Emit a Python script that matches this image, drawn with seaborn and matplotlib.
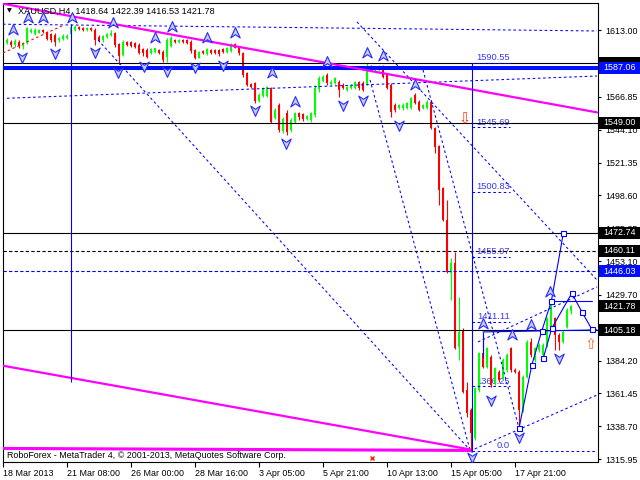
import numpy as np
import pandas as pd
import seaborn as sns
import matplotlib
matplotlib.use('Agg')
import matplotlib.pyplot as plt
import matplotlib.transforms as mtransforms
from matplotlib.patches import Rectangle
from matplotlib.path import Path

# ---- XAUUSD H4 candles (bar 0 = 18 Mar 2013 16:00) ----
bar_open = [1610.9, 1604.0, 1605.1, 1602.8, 1605.1, 1602.4, 1604.0, 1611.6, 1610.2, 1611.4,
            1613.2, 1612.1, 1610.2, 1609.8, 1606.3, 1607.0, 1607.4, 1610.2, 1613.2, 1615.5,
            1614.8, 1613.2, 1614.8, 1613.2, 1608.6, 1606.3, 1608.1, 1609.8, 1611.4, 1603.3,
            1595.9, 1605.1, 1605.1, 1604.0, 1602.8, 1599.8, 1599.4, 1597.1, 1598.2, 1599.4,
            1598.2, 1594.7, 1602.4, 1606.3, 1604.7, 1606.3, 1606.3, 1605.1, 1599.4, 1594.0,
            1598.7, 1596.4, 1599.4, 1599.4, 1599.4, 1600.1, 1598.2, 1598.7, 1603.3, 1601.7,
            1597.1, 1583.2, 1575.6, 1576.3, 1564.0, 1567.7, 1567.7, 1573.3, 1552.0, 1561.3,
            1543.5, 1555.5, 1543.9, 1549.7, 1555.5, 1554.8, 1551.6, 1550.9, 1554.3, 1572.1,
            1578.1, 1582.0, 1575.6, 1576.3, 1577.4, 1575.1, 1571.6, 1572.8, 1572.8, 1577.0,
            1576.7, 1575.6, 1587.8, 1585.5, 1585.5, 1587.8, 1582.0, 1575.1, 1561.3, 1559.0,
            1559.0, 1559.0, 1559.0, 1568.2, 1563.6, 1559.0, 1559.0, 1563.6, 1545.1, 1532.9,
            1503.5, 1481.6, 1445.1, 1451.6, 1393.8, 1405.4, 1363.8, 1349.9, 1330.3, 1363.8,
            1389.2, 1380.0, 1386.9, 1368.4, 1376.5, 1371.9, 1377.7, 1392.7, 1377.7, 1376.5,
            1349.9, 1373.0, 1397.3, 1384.6, 1391.5, 1388.1, 1395.0, 1407.7, 1413.5, 1401.9,
            1397.3, 1407.7, 1418.64]
bar_close = [1601.7, 1606.3, 1602.8, 1605.6, 1602.4, 1604.4, 1614.8, 1613.2, 1613.2, 1613.2,
             1611.6, 1607.0, 1606.3, 1605.1, 1607.9, 1609.3, 1609.3, 1615.5, 1615.5, 1613.9,
             1613.2, 1614.4, 1613.2, 1606.3, 1606.3, 1609.1, 1610.4, 1611.4, 1602.8, 1595.4,
             1605.1, 1602.8, 1602.4, 1601.7, 1597.1, 1597.1, 1594.7, 1599.8, 1600.5, 1597.1,
             1592.4, 1606.3, 1607.9, 1604.7, 1606.3, 1604.7, 1604.0, 1598.7, 1593.6, 1597.7,
             1597.1, 1600.1, 1597.1, 1597.1, 1596.4, 1597.7, 1601.0, 1603.3, 1601.0, 1597.1,
             1582.0, 1575.1, 1573.5, 1564.0, 1568.2, 1572.8, 1573.5, 1549.7, 1557.8, 1543.9,
             1551.6, 1542.8, 1550.9, 1555.5, 1553.2, 1551.3, 1553.4, 1555.5, 1572.8, 1579.7,
             1580.9, 1576.3, 1577.4, 1579.7, 1571.6, 1572.8, 1574.0, 1575.1, 1577.0, 1572.8,
             1571.6, 1586.7, 1585.5, 1586.7, 1587.8, 1580.9, 1572.8, 1556.6, 1557.8, 1561.3,
             1561.3, 1562.4, 1565.9, 1562.4, 1557.8, 1561.3, 1563.6, 1545.1, 1532.4, 1502.4,
             1481.6, 1445.8, 1451.6, 1392.7, 1404.2, 1362.7, 1347.6, 1333.8, 1364.9, 1389.2,
             1380.0, 1392.7, 1367.3, 1378.8, 1370.7, 1384.6, 1388.1, 1377.7, 1376.5, 1349.9,
             1373.0, 1397.3, 1388.1, 1392.7, 1395.0, 1395.0, 1413.5, 1425.0, 1401.9, 1397.3,
             1404.2, 1419.2, 1421.78]
bar_high = [1612.1, 1607.4, 1606.3, 1607.0, 1606.3, 1605.1, 1615.5, 1614.4, 1614.4, 1614.1,
            1614.1, 1612.8, 1610.9, 1610.9, 1608.6, 1610.2, 1610.2, 1617.4, 1616.7, 1616.2,
            1615.5, 1615.1, 1615.5, 1614.4, 1609.8, 1609.8, 1611.4, 1613.2, 1612.1, 1604.0,
            1606.3, 1605.8, 1605.8, 1605.1, 1604.0, 1600.5, 1600.5, 1600.5, 1601.0, 1600.1,
            1599.4, 1607.4, 1609.1, 1607.0, 1607.0, 1607.0, 1607.0, 1606.3, 1600.1, 1598.7,
            1599.4, 1601.0, 1600.1, 1600.1, 1600.1, 1601.0, 1601.7, 1604.4, 1604.4, 1602.4,
            1598.2, 1584.4, 1576.3, 1577.4, 1569.3, 1573.5, 1574.4, 1574.0, 1559.0, 1562.4,
            1553.2, 1557.8, 1552.0, 1556.6, 1556.6, 1555.5, 1554.3, 1556.6, 1575.1, 1581.3,
            1582.0, 1583.2, 1578.6, 1580.4, 1578.6, 1576.3, 1574.7, 1575.8, 1577.7, 1577.7,
            1577.7, 1590.1, 1589.0, 1587.8, 1589.0, 1589.0, 1582.7, 1576.3, 1562.4, 1562.0,
            1562.4, 1563.6, 1567.0, 1569.3, 1564.7, 1562.0, 1564.7, 1564.7, 1545.8, 1533.5,
            1504.7, 1495.4, 1455.0, 1459.7, 1428.5, 1406.5, 1369.6, 1351.1, 1366.1, 1390.4,
            1402.6, 1393.8, 1388.1, 1380.0, 1377.7, 1385.8, 1389.2, 1393.8, 1378.8, 1377.7,
            1374.2, 1398.5, 1399.6, 1393.8, 1396.1, 1396.1, 1414.6, 1427.3, 1414.6, 1403.1,
            1405.4, 1420.4, 1422.39]
bar_low = [1600.5, 1603.3, 1601.7, 1601.7, 1600.5, 1599.8, 1603.5, 1610.9, 1609.5, 1610.9,
           1610.9, 1606.3, 1605.1, 1602.4, 1605.1, 1606.3, 1606.8, 1609.1, 1612.8, 1613.2,
           1612.5, 1612.8, 1612.5, 1602.8, 1605.1, 1605.1, 1607.4, 1609.1, 1601.7, 1589.4,
           1595.2, 1602.1, 1601.7, 1600.5, 1596.4, 1595.2, 1593.6, 1596.4, 1597.5, 1596.4,
           1591.3, 1591.3, 1601.7, 1604.0, 1604.0, 1604.0, 1603.3, 1597.5, 1592.9, 1593.6,
           1596.4, 1595.9, 1596.4, 1596.6, 1595.4, 1597.1, 1597.5, 1598.2, 1600.5, 1595.9,
           1580.9, 1574.4, 1572.8, 1562.9, 1563.3, 1567.0, 1567.0, 1548.6, 1551.3, 1542.8,
           1541.6, 1540.5, 1542.8, 1549.0, 1550.9, 1550.4, 1550.9, 1549.7, 1553.2, 1570.5,
           1577.4, 1575.1, 1574.9, 1575.6, 1567.0, 1572.1, 1571.0, 1572.1, 1572.1, 1571.6,
           1571.0, 1574.9, 1584.8, 1584.8, 1585.0, 1580.2, 1572.1, 1553.2, 1556.6, 1558.3,
           1557.8, 1558.3, 1558.3, 1561.7, 1557.1, 1558.3, 1558.3, 1544.4, 1528.2, 1492.0,
           1481.1, 1445.1, 1426.2, 1392.0, 1384.6, 1362.0, 1345.3, 1321.1, 1329.2, 1362.7,
           1378.8, 1378.8, 1366.1, 1367.3, 1369.6, 1370.7, 1376.5, 1376.5, 1375.8, 1336.1,
           1348.8, 1371.9, 1386.9, 1383.4, 1390.4, 1386.9, 1393.8, 1406.5, 1391.5, 1391.5,
           1396.1, 1406.5, 1416.53]

x_tick_bars = [0, 16, 32, 48, 64, 80, 96, 112, 128]
x_tick_labels = ['18 Mar 2013', '21 Mar 08:00', '26 Mar 00:00', '28 Mar 16:00', '3 Apr 05:00',
                 '5 Apr 21:00', '10 Apr 13:00', '15 Apr 05:00', '17 Apr 21:00']
# scale values; the two hidden behind price boxes carry no label
y_tick_values = [1315.95, 1338.70, 1361.45, 1384.20, 1406.95, 1429.70, 1453.10, 1475.85,
                 1498.60, 1521.35, 1544.10, 1566.85, 1589.60, 1613.00]
y_tick_labels = ['1315.95', '1338.70', '1361.45', '1384.20', '', '1429.70', '1453.10', '1475.85',
                 '1498.60', '1521.35', '1544.10', '1566.85', '', '1613.00']

# price boxes on the right scale
box_prices = [1590.10, 1587.06, 1549.00, 1472.74, 1460.11, 1446.03, 1421.78, 1405.18]
box_labels = ['', '1587.06', '1549.00', '1472.74', '1460.11', '1446.03', '1421.78', '1405.18']
box_colors = ['black', '#0010ff', 'black', 'black', 'black', '#0010ff', 'black', 'black']

# horizontal levels
black_levels = [1590.10, 1549.00, 1472.74, 1405.18]
black_dash_levels = [1460.11]
blue_dash_levels = [1446.03]
thick_blue_level = 1587.06

# fibonacci levels
fib_levels = [1590.55, 1545.69, 1500.83, 1455.97, 1411.11, 1366.25, 1321.39]
fib_texts = ['1590.55', '1545.69', '1500.83', '1455.97', '1411.11', '1366.25', '0.0']

# dashed blue trend lines (bar, price) pairs
trend_bars = [[0, 148.5], [1, 148.5], [23.75, 116.75], [88.5, 148.5], [91.75, 116.75],
              [105, 129], [118.75, 148.5], [116.75, 148.5]]
trend_prices = [[1617.2, 1612.5], [1565.9, 1581.3], [1606.3, 1322.2], [1618.8, 1440.0],
                [1578.6, 1322.2], [1585.5, 1337.3], [1397.1, 1435.2], [1321.5, 1360.3]]
red_dash_bars = [0, 14.75]
red_dash_prices = [1597.3, 1616.0]

# magenta lines
mag_upper_bars = [0, 148.5]
mag_upper_prices = [1631.4, 1556.1]
mag_lower_bars = [0, 116.75]
mag_lower_prices = [1380.6, 1322.6]
mag_base_bars = [0, 116.75]
mag_base_prices = [1323.3, 1321.9]

# solid blue forecast paths
path_a_bars = [129, 132.2, 134.7, 137.1, 140.1]
path_a_prices = [1337.3, 1381.1, 1404.7, 1425.5, 1472.7]
path_b_bars = [135.1, 137.2, 142.2, 144.7, 147.2]
path_b_prices = [1386.2, 1406.6, 1430.8, 1418.0, 1405.9]
level_b_bars = [120.0, 148.5]
level_b_prices = [1404.0, 1405.4]
level_c_bars = [136.75, 147.2]
level_c_prices = [1425.5, 1425.5]

# fractals
up_frac_bars = [2.6, 6.3, 10.1, 17.2, 27.6, 38.0, 42.2, 50.9, 58.0, 67.2, 73.0, 80.9, 91.1,
                95.1, 103.0, 120.1, 127.3, 132.1, 136.8]
up_frac_prices = [1613.2, 1621.3, 1621.3, 1621.3, 1618.3, 1607.5, 1615.5, 1607.5, 1610.9,
                  1583.2, 1563.5, 1591.3, 1597.1, 1595.5, 1575.1, 1409.5, 1401.9, 1408.8, 1431.9]
dn_frac_bars = [4.7, 13.0, 23.0, 28.8, 35.3, 40.9, 48.0, 55.1, 63.0, 70.8, 85.1, 90.1, 99.0,
                117.2, 122.0, 129.0, 139.0]
dn_frac_prices = [1594.7, 1597.1, 1598.2, 1584.3, 1588.3, 1584.8, 1587.8, 1589.0, 1557.8,
                  1534.7, 1561.3, 1564.7, 1547.4, 1317.6, 1356.9, 1331.5, 1385.8]

sns.set_theme(style='white')
plt.rcParams['font.family'] = ['Liberation Sans', 'DejaVu Sans']
FS = 6.4

fig = plt.figure(figsize=(6.4, 4.8), dpi=100)
fig.patch.set_facecolor('white')
ax = fig.add_axes([2.7 / 640, 18.3 / 480, 594.8 / 640, 459 / 480])
ax.set_facecolor('white')

# candles
df = pd.DataFrame({'open': bar_open, 'high': bar_high, 'low': bar_low, 'close': bar_close})
df['bar'] = np.arange(len(df))
colors = np.where(df['close'] >= df['open'], '#00ff00', '#ff0000')
ax.vlines(df['bar'], df['low'], df['high'], colors=colors, lw=0.8, zorder=2)
body = (df['close'] - df['open']).abs().clip(lower=0.7)
ax.bar(df['bar'], body, bottom=df[['open', 'close']].min(axis=1), width=0.72,
       color=colors, lw=0, zorder=2)

# horizontal levels
ax.axhline(thick_blue_level, color='#0010ff', lw=2.9, zorder=3)
for lv in black_levels:
    ax.axhline(lv, color='black', lw=0.8, zorder=3)
for lv in black_dash_levels:
    ax.axhline(lv, color='black', lw=0.8, ls=(0, (3, 2)), zorder=3)
for lv in blue_dash_levels:
    ax.axhline(lv, color='#0000ff', lw=0.8, ls=(0, (3, 2)), zorder=3)

# trend lines
for xs, ys in zip(trend_bars, trend_prices):
    ax.plot(xs, ys, color='#0000ff', lw=0.75, ls=(0, (2.5, 2.5)), zorder=3)
ax.plot(red_dash_bars, red_dash_prices, color='#ff0000', lw=0.75, ls=(0, (2.5, 2.5)), zorder=3)

ax.plot(mag_upper_bars, mag_upper_prices, color='#ff00ff', lw=1.6, zorder=3)
ax.plot(mag_lower_bars, mag_lower_prices, color='#ff00ff', lw=1.6, zorder=3)
ax.plot(mag_base_bars, mag_base_prices, color='#ff00ff', lw=2.2, zorder=3)

# vertical lines
ax.vlines(17, 1369.4, 1617.0, color='#0000ff', lw=0.8, zorder=3)
ax.vlines(117.2, 1321.1, 1590.55, color='#0000ff', lw=0.8, zorder=3)

# fibonacci levels
ax.hlines(fib_levels[:-1], 117.2, 126.75, color='#0000ff', lw=0.75, ls=(0, (2.5, 2.5)), zorder=3)
ax.hlines(fib_levels[-1], 117.2, 148.6, color='#0000ff', lw=0.75, ls=(0, (2.5, 2.5)), zorder=3)
for lv, txt in zip(fib_levels, fib_texts):
    ax.text(126.75, lv + 0.6, txt, ha='right', va='bottom', color='#3838f0',
            fontsize=FS + 0.3, zorder=1.5)

# forecast paths
sns.lineplot(x=path_a_bars, y=path_a_prices, ax=ax, sort=False, color='#0000ff', lw=0.8,
             marker='s', markersize=3.6, markerfacecolor='white', markeredgecolor='#0000ff',
             markeredgewidth=0.8, zorder=4)
sns.lineplot(x=path_b_bars, y=path_b_prices, ax=ax, sort=False, color='#0000ff', lw=0.8,
             marker='s', markersize=3.6, markerfacecolor='white', markeredgecolor='#0000ff',
             markeredgewidth=0.8, zorder=4)
ax.plot(level_b_bars, level_b_prices, color='#0000ff', lw=0.8, zorder=3)
ax.vlines(level_b_bars[0], 1386.6, level_b_prices[0], color='#0000ff', lw=0.8, zorder=3)
ax.plot(level_c_bars, level_c_prices, color='#0000ff', lw=0.8, zorder=3)

# fractal arrows
up_arrow = Path([(0, 1), (0.8, -0.75), (0, -0.2), (-0.8, -0.75), (0, 1)],
                [Path.MOVETO, Path.LINETO, Path.LINETO, Path.LINETO, Path.CLOSEPOLY])
dn_arrow = Path([(0, -1), (0.8, 0.75), (0, 0.2), (-0.8, 0.75), (0, -1)],
                [Path.MOVETO, Path.LINETO, Path.LINETO, Path.LINETO, Path.CLOSEPOLY])
ax.plot(up_frac_bars, up_frac_prices, ls='none', marker=up_arrow, ms=8.5,
        mfc='#c4ccff', mec='#2a2aff', mew=0.8, zorder=5)
ax.plot(dn_frac_bars, dn_frac_prices, ls='none', marker=dn_arrow, ms=8.5,
        mfc='#c4ccff', mec='#2a2aff', mew=0.8, zorder=5)

# order arrows
ax.text(115.5, 1552.0, '\u21e9', family='DejaVu Sans', fontsize=10.5, color='#ff3a10',
        ha='center', va='center', zorder=5)
ax.text(147.0, 1395.0, '\u21e7', family='DejaVu Sans', fontsize=10.5, color='#ff6a30',
        ha='center', va='center', zorder=5)
ax.plot([92.2], [1316.5], ls='none', marker='x', ms=3, mec='#ff2000', mew=1.0, zorder=5)

# axes styling
ax.set_xlim(-0.075, 148.625)
ax.set_ylim(1314.1, 1632.1)
for sp in ax.spines.values():
    sp.set_color('black')
    sp.set_linewidth(0.8)
    sp.set_visible(True)

ax.set_xticks(x_tick_bars)
ax.set_xticklabels(x_tick_labels, fontsize=FS)
for lab in ax.get_xticklabels():
    lab.set_horizontalalignment('left')
ax.tick_params(axis='x', bottom=True, direction='out', length=3.5, width=0.8,
               pad=1.5, colors='black')

ax.yaxis.tick_right()
ax.set_yticks(y_tick_values)
ax.set_yticklabels(y_tick_labels, fontsize=FS)
ax.tick_params(axis='y', right=True, left=False, labelright=True, labelleft=False,
               direction='out', length=2.5, width=0.8, pad=3, colors='black')
ax.set_xlabel('')
ax.set_ylabel('')
ax.grid(False)

# price boxes
box_tr = mtransforms.blended_transform_factory(fig.transFigure, ax.transData)
for p, lab, c in zip(box_prices, box_labels, box_colors):
    ax.add_patch(Rectangle((598.5 / 640, p - 4.1), 41.5 / 640, 8.2, transform=box_tr,
                           facecolor=c, edgecolor='none', clip_on=False, zorder=10))
    if lab:
        ax.text(603.5 / 640, p, lab, transform=box_tr, color='white', fontsize=FS,
                va='center', ha='left', zorder=11, clip_on=False)

# header and footer text
fig.text(6.5 / 640, 1 - 11 / 480, '\u25bc', fontsize=4.5, va='center', ha='left',
         family='DejaVu Sans', color='black')
fig.text(18 / 640, 1 - 11 / 480, 'XAUUSD,H4  1418.64 1422.39 1416.53 1421.78',
         fontsize=6.6, va='center', ha='left', color='black')
fig.text(7 / 640, 1 - 455 / 480,
         'RoboForex - MetaTrader 4, \u00a9 2001-2013, MetaQuotes Software Corp.',
         fontsize=FS, va='center', ha='left', color='black')

fig.savefig('out.png', dpi=100, facecolor='white')
